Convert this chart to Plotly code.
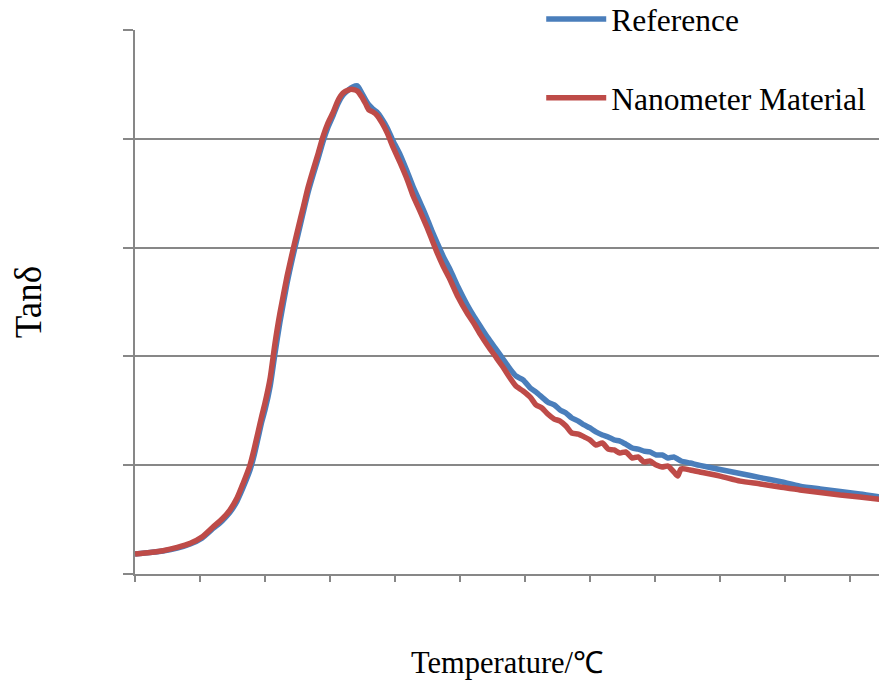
import plotly.graph_objects as go

# Temperature (°C, arbitrary origin; axis is unlabeled in the source)
temperature = [
    0.0, 2.3, 4.3, 6.5, 8.5, 10.3, 12.0, 13.4, 14.6, 15.7,
    16.6, 17.7, 18.3, 18.9, 19.5, 20.0, 20.8, 21.5, 22.3, 23.4,
    24.3, 25.1, 25.9, 26.6, 27.4, 28.2, 28.9, 29.7, 30.5, 31.2,
    32.0, 32.8, 33.5, 34.2, 34.9, 35.5, 36.0, 36.6, 37.2, 38.0,
    38.8, 39.7, 40.8, 41.9, 42.8, 43.9, 44.9, 45.7, 46.5, 47.4,
    48.5, 49.7, 51.1, 52.2, 53.2, 54.3, 55.4, 56.5, 57.7, 58.6,
    59.7, 60.8, 61.7, 62.6, 63.5, 64.5, 65.4, 66.3, 67.2, 68.2,
    69.1, 70.0, 70.9, 71.9, 72.8, 73.7, 74.6, 75.5, 76.5, 77.4,
    78.3, 79.2, 80.2, 81.1, 82.0, 82.9, 83.5, 84.0, 85.4, 86.9,
    90.0, 93.1, 96.2, 99.2, 102.3, 105.4, 108.5, 111.5, 114.5,
]

tan_reference = [
    0.092, 0.099, 0.106, 0.119, 0.138, 0.165, 0.209, 0.244, 0.283, 0.335,
    0.395, 0.478, 0.542, 0.620, 0.699, 0.754, 0.864, 1.006, 1.158, 1.337,
    1.461, 1.562, 1.664, 1.751, 1.834, 1.912, 1.985, 2.054, 2.109, 2.160,
    2.201, 2.224, 2.238, 2.243, 2.210, 2.178, 2.155, 2.137, 2.123, 2.091,
    2.050, 1.990, 1.926, 1.847, 1.778, 1.705, 1.636, 1.576, 1.521, 1.461,
    1.397, 1.319, 1.237, 1.181, 1.135, 1.085, 1.039, 0.993, 0.942, 0.910,
    0.892, 0.855, 0.836, 0.813, 0.790, 0.777, 0.754, 0.740, 0.717, 0.703,
    0.685, 0.671, 0.653, 0.639, 0.630, 0.616, 0.611, 0.597, 0.579, 0.574,
    0.565, 0.561, 0.547, 0.547, 0.533, 0.538, 0.528, 0.519, 0.510, 0.499,
    0.480, 0.462, 0.443, 0.425, 0.404, 0.391, 0.379, 0.368, 0.355,
]

tan_nanometer = [
    0.092, 0.099, 0.107, 0.122, 0.141, 0.170, 0.216, 0.253, 0.294, 0.349,
    0.414, 0.501, 0.570, 0.648, 0.726, 0.786, 0.901, 1.052, 1.199, 1.369,
    1.489, 1.590, 1.687, 1.774, 1.857, 1.935, 2.008, 2.073, 2.123, 2.174,
    2.210, 2.224, 2.227, 2.220, 2.192, 2.160, 2.132, 2.123, 2.109, 2.073,
    2.027, 1.962, 1.889, 1.811, 1.737, 1.664, 1.595, 1.535, 1.475, 1.415,
    1.351, 1.273, 1.199, 1.149, 1.098, 1.048, 1.002, 0.956, 0.901, 0.864,
    0.841, 0.813, 0.777, 0.763, 0.735, 0.712, 0.703, 0.680, 0.648, 0.643,
    0.630, 0.616, 0.593, 0.602, 0.574, 0.570, 0.556, 0.561, 0.533, 0.538,
    0.515, 0.519, 0.501, 0.492, 0.496, 0.469, 0.450, 0.483, 0.478, 0.469,
    0.450, 0.427, 0.414, 0.400, 0.386, 0.375, 0.363, 0.354, 0.343,
]

series_names = ["Reference", "Nanometer Material"]
x_title = "Temperature/℃"
y_title = "Tanδ"

FONT = "Times New Roman, Liberation Serif, serif"
GRID = "#878787"

fig = go.Figure()
fig.add_trace(go.Scatter(
    x=temperature, y=tan_reference, mode="lines", name=series_names[0],
    legendgroup="a",
    line=dict(color="#4a7ebb", width=5.5, shape="spline", smoothing=0.6),
))
fig.add_trace(go.Scatter(
    x=temperature, y=tan_nanometer, mode="lines", name=series_names[1],
    legendgroup="b",
    line=dict(color="#be4b48", width=5.5, shape="spline", smoothing=0.6),
))

fig.update_layout(
    width=879, height=680,
    margin=dict(l=135, r=0, t=30, b=106, autoexpand=False),
    paper_bgcolor="white", plot_bgcolor="white",
    font=dict(family=FONT, color="black"),
    showlegend=True,
    legend=dict(
        x=0.546, y=1.07, xanchor="left", yanchor="top",
        bgcolor="rgba(0,0,0,0)", font=dict(size=31.5, family=FONT, color="black"),
        traceorder="grouped", tracegroupgap=35, itemwidth=60,
    ),
    xaxis=dict(
        range=[0, 114.46], dtick=10, tick0=0,
        showgrid=False, zeroline=False, automargin=False,
        showline=True, linecolor=GRID, linewidth=2,
        ticks="outside", ticklen=6, tickwidth=2, tickcolor=GRID,
        showticklabels=False,
        title=dict(text=x_title, font=dict(size=30.5, family=FONT), standoff=71),
    ),
    yaxis=dict(
        range=[0, 2.5], dtick=0.5, tick0=0,
        showgrid=True, gridcolor=GRID, gridwidth=2, zeroline=False, automargin=False,
        showline=True, linecolor=GRID, linewidth=2,
        ticks="outside", ticklen=10, tickwidth=2, tickcolor=GRID,
        showticklabels=False,
        title=dict(text=y_title, font=dict(size=37, family=FONT), standoff=70),
    ),
)

fig.write_html(
    "out.html",
    config={"displayModeBar": False},
    post_script="document.body.style.margin='0';document.body.style.overflow='hidden';",
)
